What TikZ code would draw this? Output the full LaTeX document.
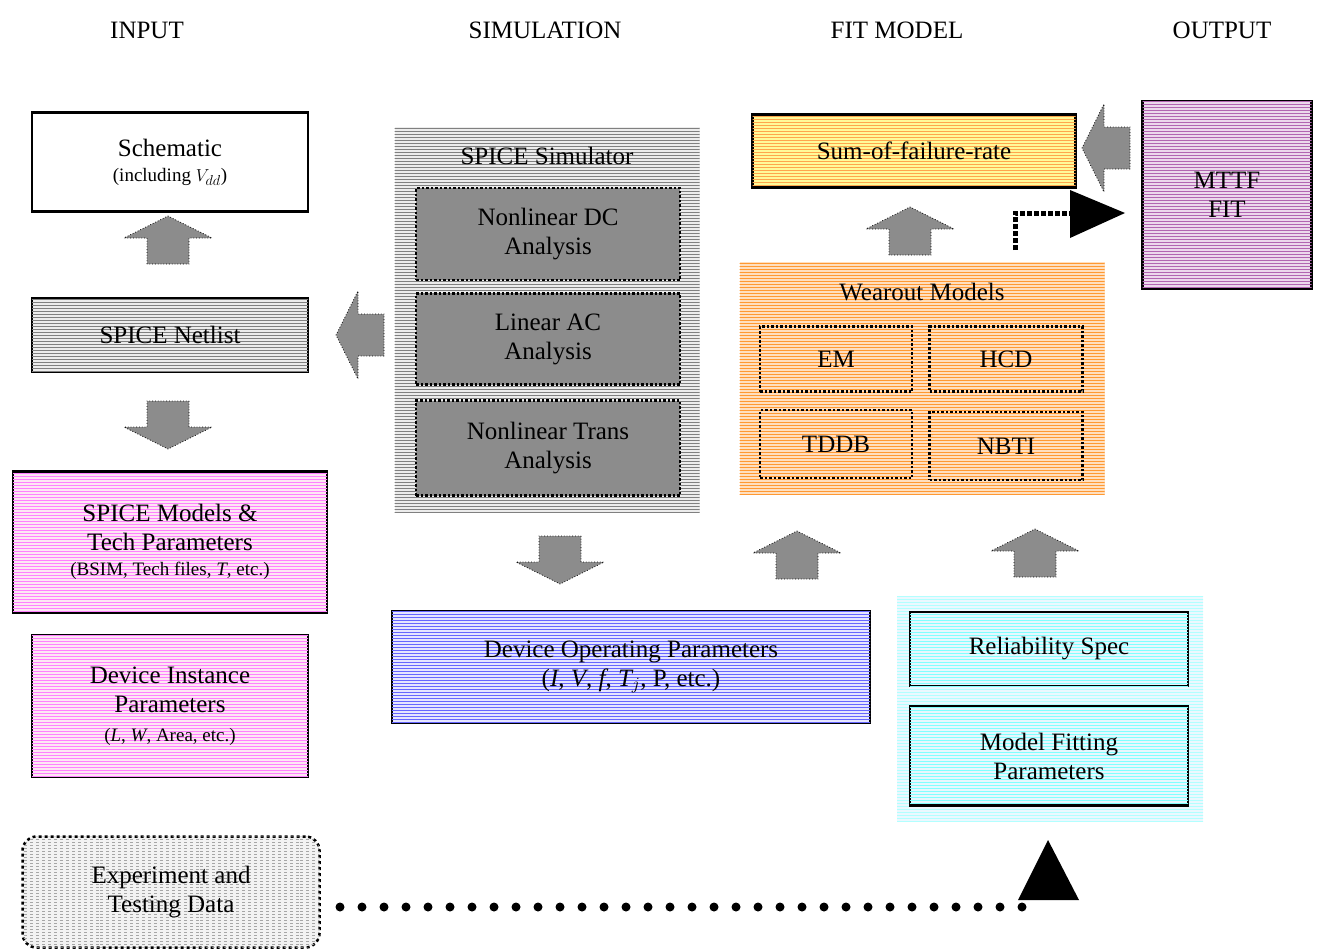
\documentclass[tikz,border=0pt]{standalone}
\usepackage{fontspec}
\setmainfont{Liberation Serif}
\usetikzlibrary{patterns}

\begin{document}
\begin{tikzpicture}[x=1pt,y=-1pt, thick]
\tikzstyle{hd}=[font=\fontsize{25}{28}\selectfont]
\tikzstyle{bx}=[draw=black,line width=2.5pt,align=center,font=\fontsize{25}{29}\selectfont]
\tikzstyle{inbx}=[draw=black,dotted,line width=2.5pt,align=center,font=\fontsize{25}{29}\selectfont]
\tikzstyle{ln}=[postaction={pattern=horizontal lines, pattern color=#1}]
\tikzset{blkarr/.pic={\draw[fill=gray!90,dotted,thick]
  (-21,24)--(-21,-2)--(-44,-2)--(0,-24)--(44,-2)--(21,-2)--(21,24)--cycle;}}
\useasboundingbox (0,0) rectangle (1337,951);
% headers
\node[hd] (hin)  at (147,30)  {INPUT};
\node[hd] (hsim) at (545,30)  {SIMULATION};
\node[hd] (hfit) at (897,30)  {FIT MODEL};
\node[hd] (hout) at (1222,30) {OUTPUT};
% input column
\node[bx,fill=white,minimum width=276,minimum height=99] (sch) at (170,162)
  {Schematic\\[-4pt]{\fontsize{19}{22}\selectfont(including $V_{dd}$)}};
\node[bx,fill=gray!15,ln=gray,minimum width=276,minimum height=74] (net) at (170,335) {SPICE Netlist};
\node[bx,fill=magenta!10,ln=magenta!50,minimum width=314,minimum height=141] (mod) at (170,542)
  {SPICE Models \&\\Tech Parameters\\[-4pt]{\fontsize{19}{22}\selectfont(BSIM, Tech files, \textit{T}, etc.)}};
\node[bx,fill=magenta!10,ln=magenta!50,minimum width=276,minimum height=142] (dev) at (170,706)
  {Device Instance\\Parameters\\{\fontsize{19}{22}\selectfont(\textit{L}, \textit{W}, Area, etc.)}};
\node[bx,dashed,rounded corners=14,fill=gray!10,ln=gray!70,minimum width=297,minimum height=111] (exp) at (171,892)
  {Experiment and\\Testing Data};
\pic at (168,240) {blkarr};
\pic[rotate=180] at (168,425) {blkarr};
\pic[rotate=90] at (360,335) {blkarr};
% simulation column
\node[fill=gray!15,ln=gray,minimum width=305,minimum height=386] (sim) at (547,320) {};
\node[font=\fontsize{25}{29}\selectfont] (simt) at (547,156) {SPICE Simulator};
\node[inbx,fill=gray!90,minimum width=264,minimum height=92] (dc) at (548,234) {Nonlinear DC\\Analysis};
\node[inbx,fill=gray!90,minimum width=264,minimum height=91] (ac) at (548,339) {Linear AC\\Analysis};
\node[inbx,fill=gray!90,minimum width=264,minimum height=95] (tr) at (548,448) {Nonlinear Trans\\Analysis};
\pic[rotate=180] at (560,560) {blkarr};
\node[bx,fill=blue!10,ln=blue!60,minimum width=478,minimum height=112] (op) at (631,667)
  {Device Operating Parameters\\(\textit{I}, \textit{V}, \textit{f}, \textit{T$_j$}, P, etc.)};
% fit model column
\node[fill=orange!25,ln=orange!80,minimum width=365,minimum height=233] (wo) at (922,378) {};
\node[font=\fontsize{25}{29}\selectfont] (wot) at (922,292) {Wearout Models};
\node[inbx,minimum width=152,minimum height=65] (em)   at (836,359) {EM};
\node[inbx,minimum width=153,minimum height=65] (hcd)  at (1006,359) {HCD};
\node[inbx,minimum width=152,minimum height=68] (tddb) at (836,444) {TDDB};
\node[inbx,minimum width=153,minimum height=68] (nbti) at (1006,446) {NBTI};
\node[bx,fill=yellow!40,ln=orange!70,minimum width=323,minimum height=73] (sum) at (914,151) {Sum-of-failure-rate};
\pic at (910,231) {blkarr};
\pic at (797,555) {blkarr};
\pic at (1035,553) {blkarr};
\node[fill=cyan!8,ln=cyan!30,minimum width=306,minimum height=225] (rel) at (1050,709) {};
\node[bx,fill=cyan!10,ln=cyan!50,minimum width=278,minimum height=74] (spec) at (1049,649) {Reliability Spec};
\node[bx,fill=cyan!10,ln=cyan!50,minimum width=278,minimum height=99] (fitp) at (1049,756) {Model Fitting\\Parameters};
% output column
\node[bx,fill=violet!15,ln=violet!60,minimum width=169,minimum height=188] (out) at (1227,195) {MTTF\\FIT};
\pic[rotate=90] at (1106,148) {blkarr};
% dotted connectors
\coordinate (c1) at (1015,250);
\coordinate (c2) at (1015,213);
\coordinate (e1) at (340,907);
\coordinate (e2) at (1040,907);
\draw[line width=5pt,dotted] (c1) -- (c2) -- (1080,213);
\fill (1070,190) -- (1125,213) -- (1070,238) -- cycle;
\draw[line width=9pt,line cap=round,dash pattern=on 0pt off 22pt] (e1) -- (e2);
\fill (1018,900) -- (1048,840) -- (1079,900) -- cycle;
\end{tikzpicture}
\end{document}
